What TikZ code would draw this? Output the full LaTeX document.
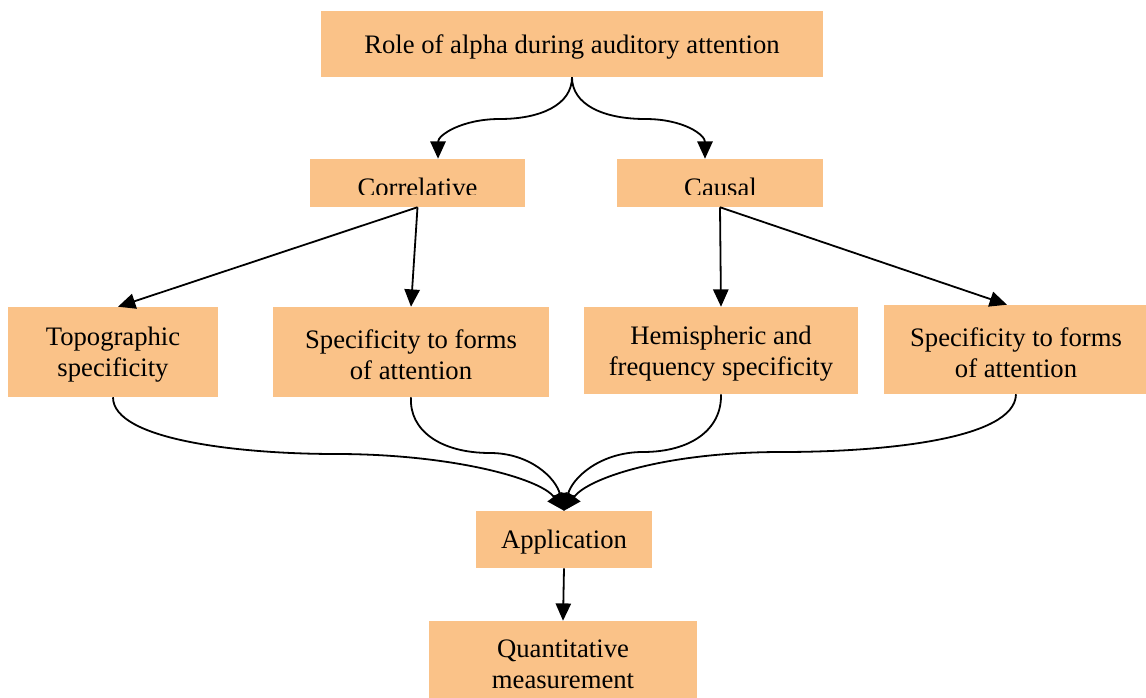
\documentclass[tikz,border=0pt]{standalone}
\usepackage{fontspec}
\setmainfont{Liberation Serif}
\usetikzlibrary{arrows.meta}
\definecolor{boxfill}{RGB}{250,194,136}
\tikzset{
  box/.style={fill=boxfill, draw=none, inner sep=0pt},
  txt/.style={inner sep=0pt, align=center, yshift=-2.2pt,
    font=\fontsize{20pt}{23.5pt}\selectfont},
  conn/.style={line width=1.35pt, -{Triangle[length=13pt,width=11.5pt]}},
  lbl/.style={inner sep=0pt, font=\fontsize{20pt}{23.5pt}\selectfont}
}
\begin{document}
\begin{tikzpicture}[x=0.75pt,y=-0.75pt]
\clip (0,0) rectangle (1146,698);
\fill[white] (0,0) rectangle (1146,698);

% nodes
\node[box, minimum width=376.5pt, minimum height=49.5pt,
  label={[txt]center:Role of alpha during auditory attention}] (top) at (572,44) {};
\node[box, minimum width=161.25pt, minimum height=36pt] (cor) at (417.5,183) {};
\node[box, minimum width=154.5pt, minimum height=36pt] (cau) at (720,183) {};
\begin{scope}
  \clip (300,150) rectangle (830,195);
  \node[lbl, anchor=base] (corl) at (417.5,196.5) {Correlative};
  \node[lbl, anchor=base] (caul) at (720.5,196.5) {Causal};
\end{scope}
\node[box, minimum width=157.5pt, minimum height=67.5pt,
  label={[txt]center:{Topographic\\specificity}}] (topo) at (113,352) {};
\node[box, minimum width=207pt, minimum height=67.5pt,
  label={[txt]center:{Specificity to forms\\of attention}}] (specA) at (411,352) {};
\node[box, minimum width=205.5pt, minimum height=65.25pt,
  label={[txt]center:{Hemispheric and\\frequency specificity}}] (hemi) at (721,350.5) {};
\node[box, minimum width=198pt, minimum height=66.75pt,
  label={[txt]center:{Specificity to forms\\of attention}}] (specB) at (1016,349.5) {};
\node[box, minimum width=132pt, minimum height=42.75pt,
  label={[txt]center:Application}] (app) at (564,539.5) {};
\node[box, minimum width=201pt, minimum height=66.75pt,
  label={[txt, yshift=3pt]center:{Quantitative\\measurement}}] (quant) at (563,665.5) {};

% top curves
\draw[conn] (top.south) .. controls (572,105) and (540,119) .. (500,119)
  .. controls (462,119) and (438,135) .. ([xshift=15.4pt]cor.north);
\draw[conn] (top.south) .. controls (572,105) and (604,119) .. (645,119)
  .. controls (684,119) and (705,135) .. ([xshift=-11.25pt]cau.north);

% straight arrows
\draw[conn] (cor.south) -- ([xshift=3.75pt]topo.north);
\draw[conn] (cor.south) -- (specA.north);
\draw[conn] (cau.south) -- (hemi.north);
\draw[conn] (cau.south) -- ([xshift=-6.75pt]specB.north);

% converging curves
\draw[conn] (topo.south) .. controls (113,440) and (240,454) .. (336,454)
  .. controls (450,454) and (540,478) .. (app.north);
\draw[conn] (specA.south) .. controls (409,430) and (440,453) .. (490,453)
  .. controls (530,453) and (556,478) .. (app.north);
\draw[conn] (hemi.south) .. controls (722,430) and (690,452) .. (643,452)
  .. controls (600,452) and (572,478) .. (app.north);
\draw[conn] (specB.south) .. controls (1015,440) and (880,452) .. (782,452)
  .. controls (665,452) and (588,478) .. (app.north);

\draw[conn] (app.south) -- (quant.north);
\end{tikzpicture}
\end{document}
